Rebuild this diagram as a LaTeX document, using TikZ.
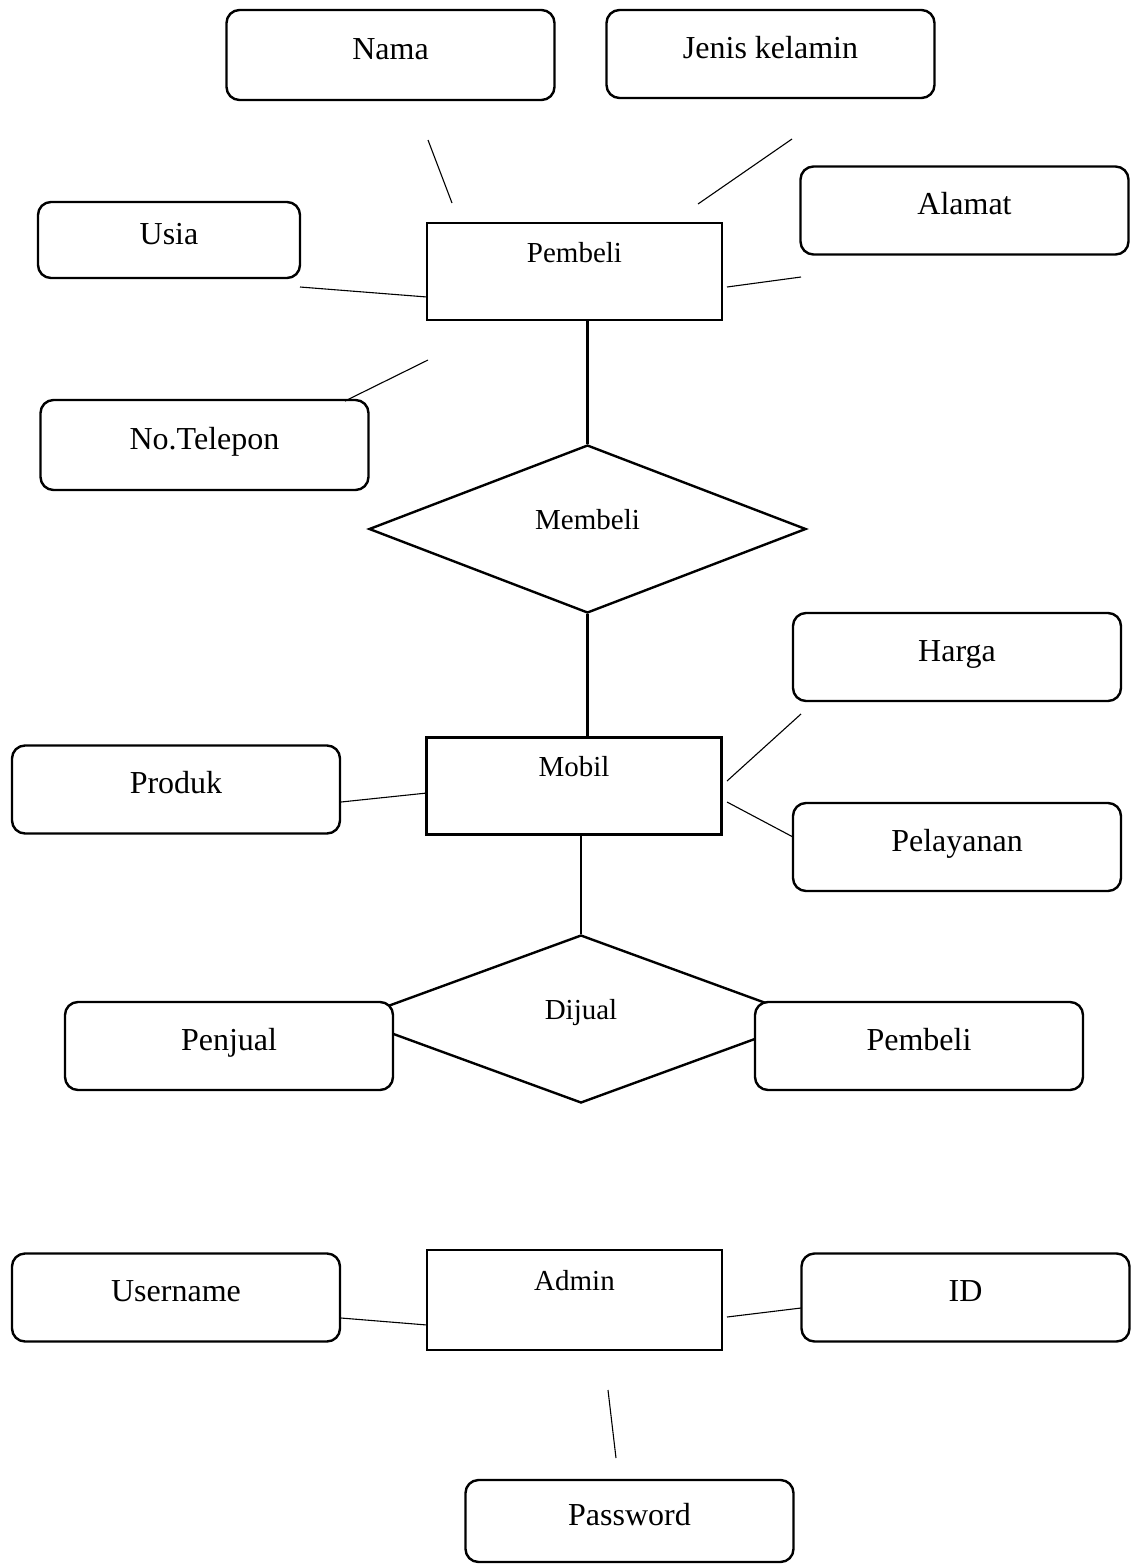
\documentclass[tikz,border=0pt]{standalone}
\usepackage{fontspec}
\setmainfont{Liberation Serif}
\usetikzlibrary{shapes.geometric}

\tikzset{
  attrbox/.style={draw=black,line width=1.2pt,rounded corners=6.5pt,fill=white,minimum width=164pt,minimum height=44pt,inner sep=0pt,text height=9pt,text depth=5pt,font=\fontsize{16}{19}\selectfont},
  entbox/.style={draw=black,line width=1.2pt,fill=white,minimum width=147.5pt,minimum height=48.5pt,inner sep=0pt,text height=4pt,text depth=13.5pt,font=\fontsize{14.5}{17}\selectfont},
  relbox/.style={diamond,aspect=2.6,draw=black,line width=1.2pt,fill=white,inner sep=0pt,text height=6pt,text depth=6pt,font=\fontsize{14.5}{17}\selectfont},
  attrline/.style={draw=black,line width=0.55pt},
  relline/.style={draw=black,line width=1.2pt}
}

\begin{document}
\begin{tikzpicture}[x=0.5pt,y=-0.5pt]
\fill[white] (0,0) rectangle (1129,1564);
% Drawing relationships
\node[relbox,minimum width=218.5pt,minimum height=84pt] (membeli) at (587.5,529) {Membeli};
\node[relbox,minimum width=229pt,minimum height=84pt] (dijual) at (581,1019) {Dijual};
% Done with relationships; drawing entities
\node[entbox] (pembeli) at (574.5,271.5) {Pembeli};
\node[entbox] (mobil) at (574,786) {Mobil};
\node[entbox,minimum height=50pt] (admin) at (574.5,1300) {Admin};
% Done with entities; drawing attributes
\node[attrbox,minimum height=45pt] (nama) at (390.5,55) {Nama};
\node[attrbox] (jenis) at (770.5,54) {Jenis kelamin};
\node[attrbox] (alamat) at (964.5,210.5) {Alamat};
\node[attrbox,minimum width=131pt,minimum height=38pt] (usia) at (169,240) {Usia};
\node[attrbox,minimum height=45pt] (telepon) at (204.5,445) {No.Telepon};
\node[attrbox] (harga) at (957,657) {Harga};
\node[attrbox] (produk) at (176,789.5) {Produk};
\node[attrbox] (pelayanan) at (957,847) {Pelayanan};
\node[attrbox] (penjual) at (229,1046) {Penjual};
\node[attrbox] (pembelidua) at (919,1046) {Pembeli};
\node[attrbox] (username) at (176,1297.5) {Username};
\node[attrbox] (id) at (965.5,1297.5) {ID};
\node[attrbox,minimum height=41pt] (password) at (629.5,1521) {Password};
% Done with attributes; drawing relationship lines
\draw[relline] (membeli.north |- pembeli.south) -- (membeli.north);
\draw[relline] (membeli.south) -- (membeli.south |- mobil.north);
\draw[relline] (dijual.north |- mobil.south) -- (dijual.north);
% Done with relationship lines; drawing attribute lines
% Line 1: nama, jenis kelamin, alamat, usia, no.telepon -- pembeli
\coordinate (namaA) at (428,140);   \coordinate (namaB) at (452,203);
\coordinate (jenisA) at (792,139);  \coordinate (jenisB) at (698,204);
\coordinate (alamatA) at (801,277); \coordinate (alamatB) at (727,287);
\coordinate (usiaA) at (300,287);   \coordinate (usiaB) at (427,297);
\coordinate (telpA) at (345,401);   \coordinate (telpB) at (428,360);
\draw[attrline] (namaA) -- (namaB);
\draw[attrline] (jenisA) -- (jenisB);
\draw[attrline] (alamatA) -- (alamatB);
\draw[attrline] (usiaA) -- (usiaB);
\draw[attrline] (telpA) -- (telpB);
% Line 2: harga, produk, pelayanan -- mobil
\coordinate (hargaA) at (801,714);  \coordinate (hargaB) at (727,781);
\coordinate (produkA) at (341,802); \coordinate (produkB) at (427,793);
\coordinate (layanA) at (793,837);  \coordinate (layanB) at (727,802);
\draw[attrline] (hargaA) -- (hargaB);
\draw[attrline] (produkA) -- (produkB);
\draw[attrline] (layanA) -- (layanB);
% Line 3: username, id, password -- admin
\coordinate (userA) at (341,1318);  \coordinate (userB) at (427,1325);
\coordinate (idA) at (801,1308);    \coordinate (idB) at (727,1317);
\coordinate (passA) at (616,1458);  \coordinate (passB) at (608,1390);
\draw[attrline] (userA) -- (userB);
\draw[attrline] (idA) -- (idB);
\draw[attrline] (passA) -- (passB);
% Done with attribute lines
\end{tikzpicture}
\end{document}
